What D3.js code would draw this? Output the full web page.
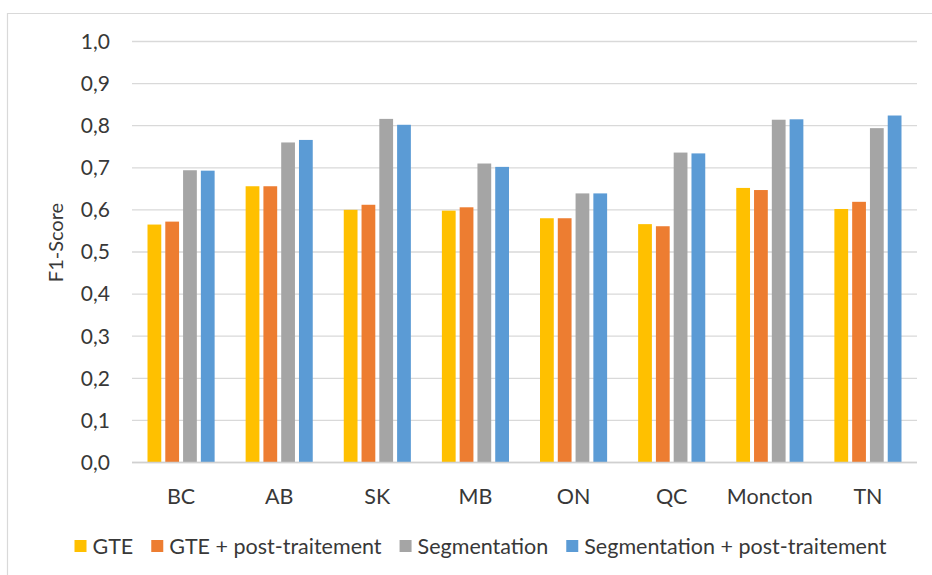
<!DOCTYPE html>
<html>
<head>
<meta charset="utf-8">
<script src="https://cdn.jsdelivr.net/npm/d3@7"></script>
<style>
  html, body { margin: 0; padding: 0; background: #fff; }
  svg text { font-family: Lato, "Open Sans", sans-serif; fill: #383838; }
</style>
</head>
<body>
<svg id="chart" width="932" height="575"></svg>
<script>
// F1 scores per region and method
const regions = ["BC", "AB", "SK", "MB", "ON", "QC", "Moncton", "TN"];
const seriesNames = ["GTE", "GTE + post-traitement", "Segmentation", "Segmentation + post-traitement"];
const gte        = [0.564, 0.655, 0.599, 0.597, 0.579, 0.565, 0.651, 0.601];
const gtePost    = [0.571, 0.655, 0.611, 0.605, 0.579, 0.560, 0.646, 0.618];
const segm       = [0.693, 0.759, 0.815, 0.709, 0.638, 0.735, 0.813, 0.793];
const segmPost   = [0.692, 0.765, 0.801, 0.701, 0.638, 0.733, 0.814, 0.823];
const yTicks = [0, 0.1, 0.2, 0.3, 0.4, 0.5, 0.6, 0.7, 0.8, 0.9, 1.0];
const colors = ["#FFC000", "#ED7D31", "#A5A5A5", "#5B9BD5"];

const seriesValues = [gte, gtePost, segm, segmPost];
const rows = regions.map((r, i) => ({
  region: r,
  values: seriesValues.map((s, k) => ({ key: seriesNames[k], value: s[i] }))
}));

const svg = d3.select("#chart");
const plot = { left: 132, right: 917, top: 41, bottom: 462 };

// chart frame (left and top edges)
svg.append("path")
  .attr("d", `M7.5,575 V13.5 H932`)
  .attr("fill", "none")
  .attr("stroke", "#D9D9D9")
  .attr("stroke-width", 1.2);

const x0 = d3.scaleBand().domain(regions).range([plot.left, plot.right]).paddingInner(0.316).paddingOuter(0.158);
const x1 = d3.scaleBand().domain(seriesNames).range([0, x0.bandwidth()]).paddingInner(0.226);
const y = d3.scaleLinear().domain([0, 1]).range([plot.bottom, plot.top]);

// horizontal gridlines
svg.append("g")
  .selectAll("line")
  .data(yTicks)
  .join("line")
  .attr("x1", plot.left).attr("x2", plot.right)
  .attr("y1", d => y(d) + 0.5).attr("y2", d => y(d) + 0.5)
  .attr("stroke", "#D9D9D9")
  .attr("stroke-width", 1.3);

// y axis labels
const fmt = d => d.toFixed(1).replace(".", ",");
const yAxis = d3.axisLeft(y).tickValues(yTicks).tickFormat(fmt).tickSize(0).tickPadding(0);
const gy = svg.append("g").attr("transform", `translate(110,0)`).call(yAxis);
gy.select(".domain").remove();
gy.selectAll("text").attr("font-size", 21).attr("font-family", "Lato").attr("fill", "#383838").attr("dy", "0.35em");

// bars
svg.append("g")
  .selectAll("g")
  .data(rows)
  .join("g")
  .attr("transform", d => `translate(${x0(d.region)},0)`)
  .selectAll("rect")
  .data(d => d.values)
  .join("rect")
  .attr("x", d => x1(d.key))
  .attr("width", x1.bandwidth())
  .attr("y", d => y(d.value))
  .attr("height", d => y(0) - y(d.value))
  .attr("fill", (d, i) => colors[i]);

// baseline
svg.append("line")
  .attr("x1", plot.left).attr("x2", plot.right)
  .attr("y1", y(0) + 0.5).attr("y2", y(0) + 0.5)
  .attr("stroke", "#D0D0D0").attr("stroke-width", 1.3);

// category axis
const xAxis = d3.axisBottom(x0).tickSize(0).tickPadding(0);
const gx = svg.append("g").attr("transform", `translate(0,${plot.bottom})`).call(xAxis);
gx.select(".domain").remove();
gx.selectAll("text").attr("font-size", 21.5).attr("font-family", "Lato").attr("fill", "#383838").attr("dy", "1.0em").attr("y", 20);

// y axis title
svg.append("text")
  .attr("transform", `translate(63,${(plot.top + plot.bottom) / 2 - 9}) rotate(-90)`)
  .attr("text-anchor", "middle")
  .attr("font-size", 20)
  .text("F1-Score");

// legend
const legend = svg.append("g");
const items = legend.selectAll("g").data(seriesNames).join("g");
items.append("rect").attr("width", 12).attr("height", 12).attr("y", -6).attr("fill", (d, i) => colors[i]);
items.append("text").attr("x", 18).attr("dy", "0.35em").attr("font-size", 21.5).text(d => d);
let cx = 0;
items.each(function () {
  d3.select(this).attr("transform", `translate(${cx},0)`);
  cx += 18 + d3.select(this).select("text").node().getComputedTextLength() + 18;
});
const legendWidth = cx - 18;
legend.attr("transform", `translate(${480.5 - legendWidth / 2},546)`);
</script>
</body>
</html>
